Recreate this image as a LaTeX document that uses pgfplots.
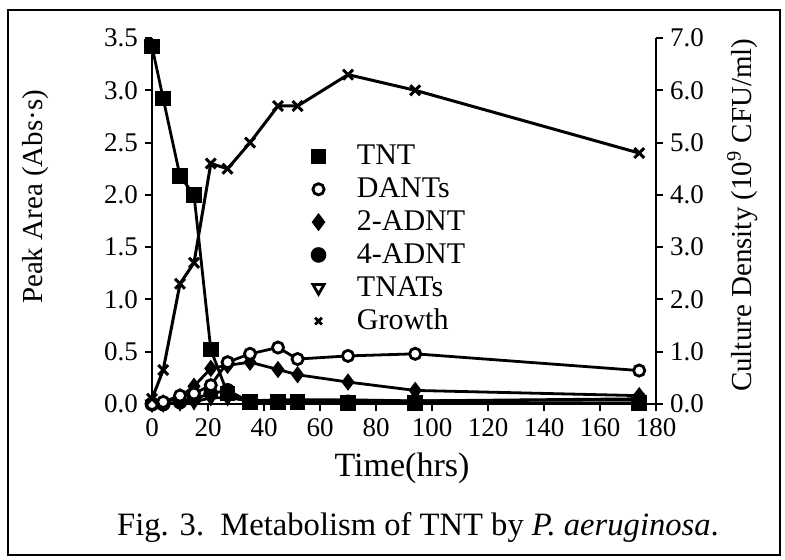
\documentclass[border=0pt]{standalone}
\usepackage{fontspec}
\setmainfont{Liberation Serif}
\usepackage{pgfplots}
\pgfplotsset{compat=1.18}
\usepackage{pgfplotstable}

% time (hrs), peak areas (Abs s) and culture density (10^9 CFU/ml)
\pgfplotstableread{
t   TNT   DANT  ADNTa ADNTb TNAT  growth
0   3.42  0.00  0.00  0.00  0.00  0.10
4   2.92  0.02  0.01  0.00  0.00  0.65
10  2.18  0.08  0.07  0.02  0.01  2.30
15  2.00  0.10  0.17  0.05  0.02  2.70
21  0.52  0.18  0.34  0.10  0.06  4.60
27  0.10  0.40  0.37  0.13  0.06  4.50
35  0.02  0.48  0.40  0.02  0.03  5.00
45  0.02  0.54  0.33  0.02  0.04  5.70
52  0.02  0.43  0.28  0.02  0.04  5.70
70  0.01  0.46  0.21  0.02  0.04  6.30
94  0.01  0.48  0.13  0.03  0.03  6.00
174 0.01  0.32  0.08  0.05  0.04  4.80
}\metab

\newcommand{\fs}{\fontsize{13.5}{15}\selectfont}
\newcommand{\fl}{\fontsize{14.5}{16}\selectfont}
\newcommand{\fg}{\fontsize{15}{16}\selectfont}
\newcommand{\fc}{\fontsize{17}{19}\selectfont}
\newcommand{\fcap}{\fontsize{16.3}{19}\selectfont}

\pgfplotsset{
  tntaxis/.style={
    at={(76pt,-202pt)}, anchor=south west,
    width=252pt, height=183pt, scale only axis,
    xmin=0, xmax=180,
    axis line style={line width=1pt},
    tick style={line width=1pt, black},
    major tick length=3.5pt,
    tick align=outside,
    tick label style={font=\fs},
    label style={font=\fl},
    /pgf/number format/assume math mode=true,
    yticklabel style={/pgf/number format/.cd, fixed, fixed zerofill, precision=1},
    every axis plot/.append style={line width=1.4pt, black},
  },
}

\begin{document}
\begin{tikzpicture}
\path[use as bounding box] (0,0) rectangle (392.5pt,-279.5pt);
\draw[line width=1.2pt] (4pt,-5pt) rectangle (390pt,-277.5pt);

\begin{axis}[
  tntaxis,
  ymin=0, ymax=3.5,
  axis x line*=bottom, axis y line*=left,
  xtick={0,20,...,180},
  ytick={0,0.5,...,3.5},
  xlabel={Time(hrs)},
  ylabel={Peak Area (Abs·s)},
  xlabel style={at={(axis description cs:0.496,-0.175)}, anchor=center, font=\fc},
  ylabel style={at={(axis description cs:-0.232,0.566)}, anchor=center},
  legend style={draw=none, fill=none, font=\fg, at={(axis description cs:0.305,0.73)},
    anchor=north west, row sep=1pt, column sep=14pt, cells={anchor=west}},
]
\addlegendimage{only marks, mark=square*, mark size=3.2pt}
\addlegendimage{only marks, mark=o, mark size=2.8pt, line width=1.4pt}
\addlegendimage{only marks, mark=diamond*, mark size=3.4pt}
\addlegendimage{only marks, mark=*, mark size=3.2pt}
\addlegendimage{only marks, mark=triangle, mark size=3.2pt, line width=1.4pt, mark options={rotate=180}}
\addlegendimage{only marks, mark=x, mark size=2.4pt, line width=1.4pt}
\legend{TNT, DANTs, 2-ADNT, 4-ADNT, TNATs, Growth}

\addplot[forget plot, mark=triangle*, mark size=3pt, mark options={rotate=180, fill=white}] table[x=t, y=TNAT] {\metab};
\addplot[forget plot, mark=*, mark size=3pt] table[x=t, y=ADNTb] {\metab};
\addplot[forget plot, mark=diamond*, mark size=3.2pt] table[x=t, y=ADNTa] {\metab};
\addplot[forget plot, mark=*, mark size=2.8pt, mark options={fill=white}] table[x=t, y=DANT] {\metab};
\addplot[forget plot, mark=square*, mark size=3.2pt] table[x=t, y=TNT] {\metab};
\end{axis}

\begin{axis}[
  tntaxis,
  ymin=0, ymax=7,
  axis x line=none, axis y line*=right,
  ytick={0,1,...,7},
  ylabel={Culture Density (10\textsuperscript{9} CFU/ml)},
  ylabel style={at={(axis description cs:1.171,0.516)}, anchor=center},
]
\addplot[mark=x, mark size=3.5pt, line width=1.5pt] table[x=t, y=growth] {\metab};
\end{axis}

\node[font=\fcap] at (209pt,-264pt) {Fig. 3.\ \ Metabolism of TNT by \textit{P. aeruginosa}.};
\end{tikzpicture}
\end{document}
